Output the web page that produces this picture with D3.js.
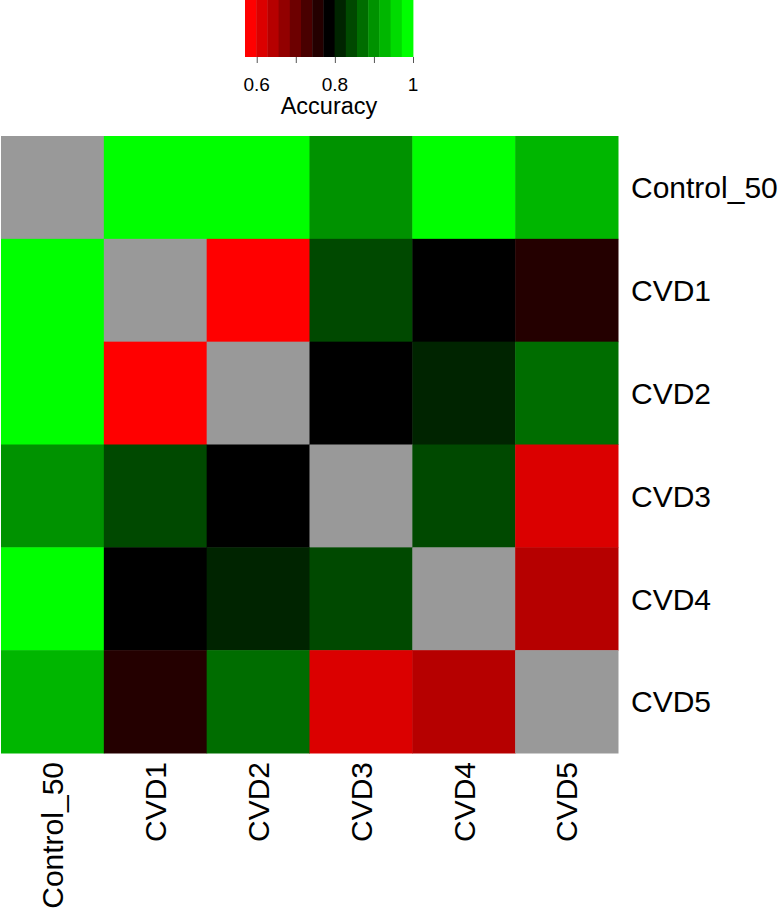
<!DOCTYPE html>
<html>
<head>
<meta charset="utf-8">
<script src="https://cdn.jsdelivr.net/npm/d3@7"></script>
<style>
  html, body { margin: 0; padding: 0; background: #fff; }
  svg { display: block; font-family: "Liberation Sans", Arial, sans-serif; }
  .lgtick { font-size: 19px; }
</style>
</head>
<body>
<svg id="chart" width="778" height="908"></svg>
<script>
// ---- data ----
const rowLabels = ["Control_50", "CVD1", "CVD2", "CVD3", "CVD4", "CVD5"];
const colLabels = ["Control_50", "CVD1", "CVD2", "CVD3", "CVD4", "CVD5"];
const accControl50 = [null, 1.00, 1.00, 0.90, 1.00, 0.93];
const accCVD1      = [1.00, null, 0.58, 0.84, 0.79, 0.76];
const accCVD2      = [1.00, 0.58, null, 0.79, 0.81, 0.87];
const accCVD3      = [0.90, 0.84, 0.79, null, 0.84, 0.61];
const accCVD4      = [1.00, 0.79, 0.81, 0.84, null, 0.64];
const accCVD5      = [0.93, 0.76, 0.87, 0.61, 0.64, null];
const legendTicks = [0.6, 0.7, 0.8, 0.9, 1];
const legendLabelValues = [0.6, 0.8, 1];
const legendLabelText = ["0.6", "0.8", "1"];
const legendDomain = [0.57, 1];
const nColors = 15;

const matrix = [accControl50, accCVD1, accCVD2, accCVD3, accCVD4, accCVD5];

// ---- layout ----
const svg = d3.select("#chart");
const hm = { x0: 1, y0: 136, x1: 618, y1: 753 };
const labelSize = 30;

const palette = d3.range(nColors).map(i =>
  d3.piecewise(d3.interpolateRgb, ["#ff0000", "#000000", "#00ff00"])(i / (nColors - 1)));
const color = d3.scaleQuantize().domain(legendDomain).range(palette);

const x = d3.scaleBand().domain(colLabels).range([hm.x0, hm.x1]).padding(0);
const y = d3.scaleBand().domain(rowLabels).range([hm.y0, hm.y1]).padding(0);

const cells = [];
matrix.forEach((row, ri) => row.forEach((v, ci) =>
  cells.push({ r: rowLabels[ri], c: colLabels[ci], v })));

svg.append("g").selectAll("rect").data(cells).join("rect")
  .attr("x", d => x(d.c))
  .attr("y", d => y(d.r))
  .attr("width", x.bandwidth() + 0.5)
  .attr("height", y.bandwidth() + 0.5)
  .attr("fill", d => d.v == null ? "#999999" : color(d.v));

// row labels (right)
svg.append("g").selectAll("text").data(rowLabels).join("text")
  .attr("x", hm.x1 + 13)
  .attr("y", d => y(d) + y.bandwidth() / 2)
  .attr("dy", "0.36em")
  .style("font-size", labelSize + "px")
  .attr("fill", "#000")
  .text(d => d);

// column labels (bottom, rotated)
svg.append("g").selectAll("text").data(colLabels).join("text")
  .attr("transform", d => `translate(${x(d) + x.bandwidth() / 2},${hm.y1 + 9}) rotate(-90)`)
  .attr("text-anchor", "end")
  .attr("dy", "0.36em")
  .style("font-size", labelSize + "px")
  .attr("fill", "#000")
  .text(d => d);

// ---- legend ----
const lg = { x0: 245, x1: 413, y0: 0, y1: 57 };
const lx = d3.scaleLinear().domain(legendDomain).range([lg.x0, lg.x1]);
const binW = (legendDomain[1] - legendDomain[0]) / nColors;
svg.append("g").selectAll("rect").data(palette).join("rect")
  .attr("x", (c, i) => lx(legendDomain[0] + i * binW))
  .attr("y", lg.y0)
  .attr("width", (c, i) => lx(legendDomain[0] + (i + 1) * binW) - lx(legendDomain[0] + i * binW) + 0.4)
  .attr("height", lg.y1 - lg.y0)
  .attr("fill", c => c);

const axis = d3.axisBottom(lx).tickValues(legendTicks).tickFormat("").tickSize(6);
const ag = svg.append("g").attr("transform", `translate(0,${lg.y1})`).call(axis);
ag.select(".domain").remove();
ag.selectAll(".tick line").attr("stroke", "#555").attr("stroke-width", 1);

svg.append("g").selectAll("text").data(legendLabelValues).join("text")
  .attr("class", "lgtick")
  .attr("x", d => lx(d))
  .attr("y", 91)
  .attr("text-anchor", "middle")
  .attr("fill", "#000")
  .text((d, i) => legendLabelText[i]);

svg.append("text")
  .attr("x", (lg.x0 + lg.x1) / 2)
  .attr("y", 114)
  .attr("text-anchor", "middle")
  .style("font-size", "23.5px")
  .attr("fill", "#000")
  .text("Accuracy");
</script>
</body>
</html>
